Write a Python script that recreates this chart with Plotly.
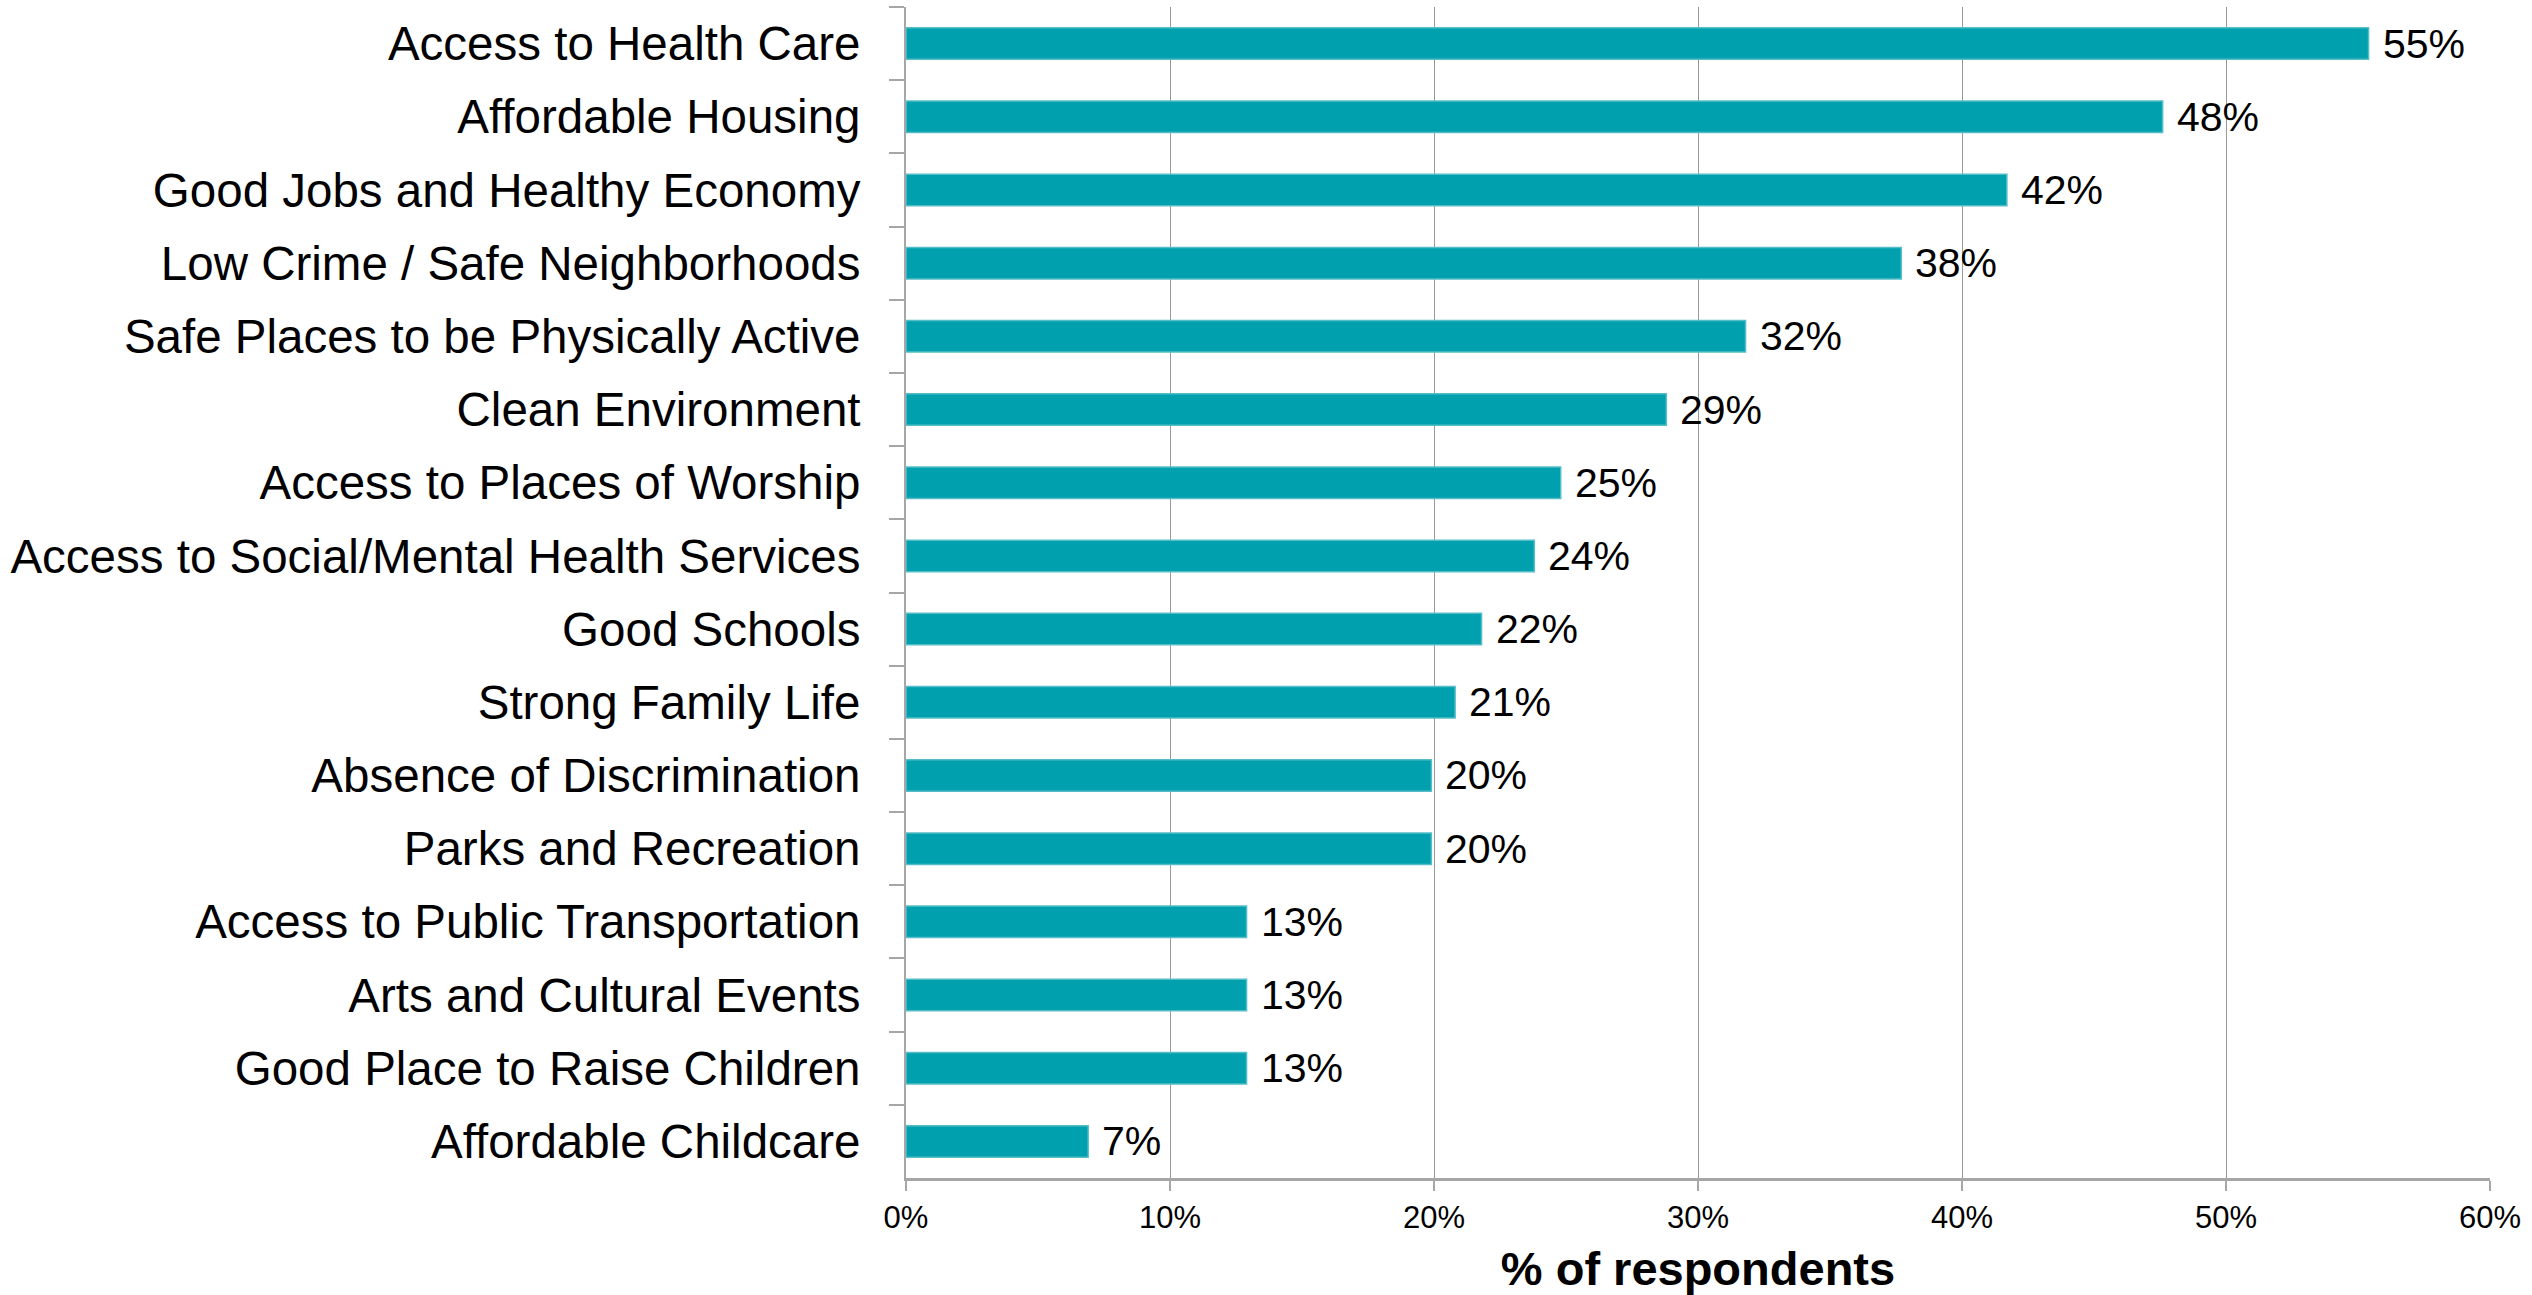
import plotly.graph_objects as go

categories = [
    "Access to Health Care",
    "Affordable Housing",
    "Good Jobs and Healthy Economy",
    "Low Crime / Safe Neighborhoods",
    "Safe Places to be Physically Active",
    "Clean Environment",
    "Access to Places of Worship",
    "Access to Social/Mental Health Services",
    "Good Schools",
    "Strong Family Life",
    "Absence of Discrimination",
    "Parks and Recreation",
    "Access to Public Transportation",
    "Arts and Cultural Events",
    "Good Place to Raise Children",
    "Affordable Childcare",
]
values = [55.4, 47.6, 41.7, 37.7, 31.8, 28.8, 24.8, 23.8, 21.8, 20.8, 19.9, 19.9, 12.9, 12.9, 12.9, 6.9]
value_labels = ["55%", "48%", "42%", "38%", "32%", "29%", "25%", "24%", "22%", "21%",
                "20%", "20%", "13%", "13%", "13%", "7%"]
x_ticks = [0, 10, 20, 30, 40, 50, 60]
x_tick_labels = ["0%", "10%", "20%", "30%", "40%", "50%", "60%"]

FONT = "Liberation Sans, Arial, sans-serif"

fig = go.Figure()
fig.add_trace(go.Bar(
    x=values,
    y=categories,
    orientation="h",
    width=0.43,
    marker=dict(color="#00A0AE", line=dict(color="#55BDC7", width=1.5)),
    hoverinfo="x+y",
))

for v, c, t in zip(values, categories, value_labels):
    fig.add_annotation(
        x=v, y=c, text=t, showarrow=False, xanchor="left", yanchor="middle",
        xshift=12, font=dict(family=FONT, size=41, color="#000000"),
    )

fig.update_layout(
    width=2532,
    height=1295,
    margin=dict(l=906, r=42, t=7, b=117, autoexpand=False),
    paper_bgcolor="white",
    plot_bgcolor="white",
    showlegend=False,
    font=dict(family=FONT, color="#000000"),
)

fig.update_xaxes(
    automargin=False,
    range=[0, 60],
    tickvals=x_ticks,
    ticktext=x_tick_labels,
    tickfont=dict(family=FONT, size=31, color="#000000"),
    showgrid=True,
    gridcolor="#999999",
    gridwidth=1,
    zeroline=False,
    showline=True,
    linecolor="#A6A6A6",
    linewidth=3,
    ticks="outside",
    ticklen=10,
    tickcolor="#A6A6A6",
    tickwidth=2,
    title=dict(text="<b>% of respondents</b>", font=dict(family=FONT, size=47, color="#000000"), standoff=19),
)

fig.update_yaxes(
    automargin=False,
    categoryorder="array",
    categoryarray=categories,
    autorange="reversed",
    tickson="boundaries",
    ticks="outside",
    ticklen=15,
    tickcolor="#A6A6A6",
    tickwidth=2,
    showgrid=False,
    showline=True,
    linecolor="#A6A6A6",
    linewidth=2,
    tickfont=dict(family=FONT, size=47.5, color="#000000"),
    ticklabelstandoff=34,
)

fig.write_html(
    "out.html",
    config={"displayModeBar": False},
    post_script="document.body.style.margin='0';document.body.style.overflow='hidden';",
)
